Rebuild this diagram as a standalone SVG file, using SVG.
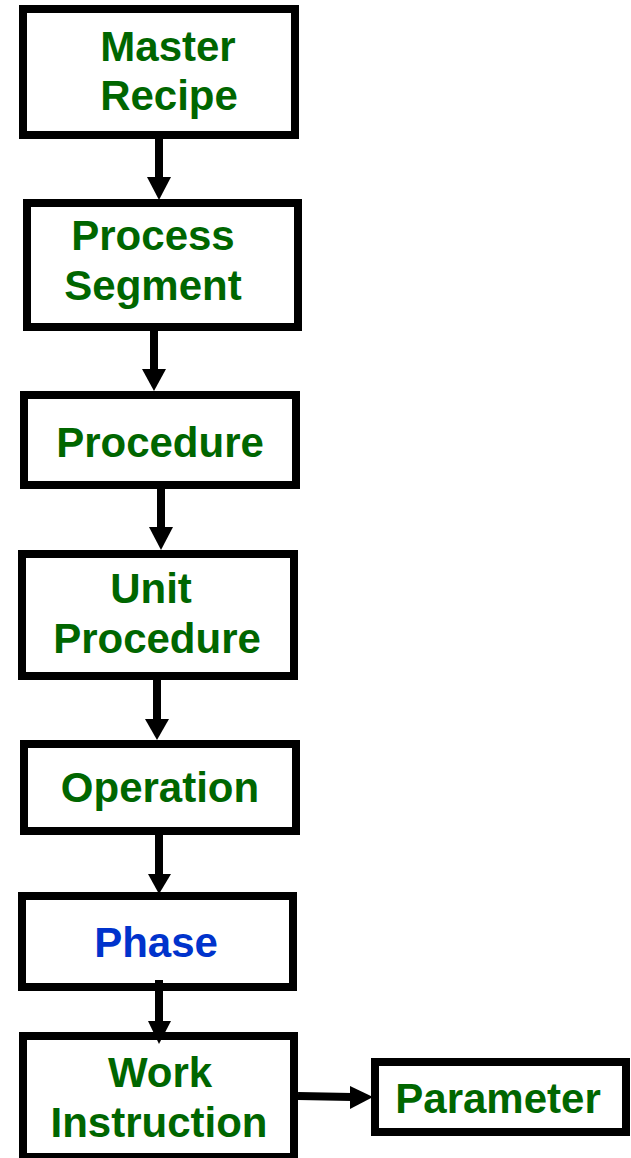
<svg xmlns="http://www.w3.org/2000/svg" width="631" height="1158" viewBox="0 0 631 1158">
  <style>
    .box { fill: #ffffff; stroke: #000000; stroke-width: 8; }
    .lbl { font-family: "Liberation Sans", Arial, sans-serif; font-weight: bold; font-size: 42px; fill: #006600; text-anchor: middle; }
    .blue { fill: #0033cc; }
    .shaft { stroke: #000000; stroke-width: 8; fill: none; }
    .head { fill: #000000; }
  </style>
  <rect width="631" height="1158" fill="#ffffff"/>

  <g id="connectors">
    <line class="shaft" x1="159" y1="139" x2="159" y2="179"/>
    <polygon class="head" points="147,177 171,177 159,200"/>
    <line class="shaft" x1="154" y1="331" x2="154" y2="371"/>
    <polygon class="head" points="142,369 166,369 154,391"/>
    <line class="shaft" x1="161" y1="489" x2="161" y2="529"/>
    <polygon class="head" points="149,527 173,527 161,550"/>
    <line class="shaft" x1="157" y1="680" x2="157" y2="721"/>
    <polygon class="head" points="145,719 169,719 157,740"/>
    <line class="shaft" x1="159" y1="835" x2="159" y2="876"/>
    <polygon class="head" points="148,874 171,874 159,894"/>
  </g>

  <g id="master-recipe">
    <rect class="box" x="23" y="9" width="272" height="126"/>
    <text class="lbl" x="168" y="61">Master</text>
    <text class="lbl" x="169" y="110">Recipe</text>
  </g>

  <g id="process-segment">
    <rect class="box" x="27" y="203" width="271" height="124"/>
    <text class="lbl" x="153" y="250">Process</text>
    <text class="lbl" x="153" y="300">Segment</text>
  </g>

  <g id="procedure">
    <rect class="box" x="24" y="395" width="272" height="90"/>
    <text class="lbl" x="160" y="457">Procedure</text>
  </g>

  <g id="unit-procedure">
    <rect class="box" x="22" y="554" width="272" height="122"/>
    <text class="lbl" x="151" y="603">Unit</text>
    <text class="lbl" x="157" y="653">Procedure</text>
  </g>

  <g id="operation">
    <rect class="box" x="24" y="744" width="272" height="87"/>
    <text class="lbl" x="160" y="802">Operation</text>
  </g>

  <g id="phase">
    <rect class="box" x="22" y="896" width="271" height="91"/>
    <text class="lbl blue" x="156" y="957">Phase</text>
  </g>

  <g id="work-instruction">
    <rect class="box" x="23" y="1036" width="271" height="121"/>
    <text class="lbl" x="160" y="1087">Work</text>
    <text class="lbl" x="159" y="1137">Instruction</text>
  </g>

  <g id="parameter">
    <rect class="box" x="375" y="1062" width="251" height="70"/>
    <text class="lbl" x="498" y="1113">Parameter</text>
  </g>

  <g id="connectors-lower">
    <line class="shaft" x1="159" y1="980" x2="159" y2="1023"/>
    <polygon class="head" points="148,1021 171,1021 159,1044"/>
    <line class="shaft" x1="298" y1="1096" x2="352" y2="1097"/>
    <polygon class="head" points="350,1086 350,1109 373,1097"/>
  </g>
</svg>
